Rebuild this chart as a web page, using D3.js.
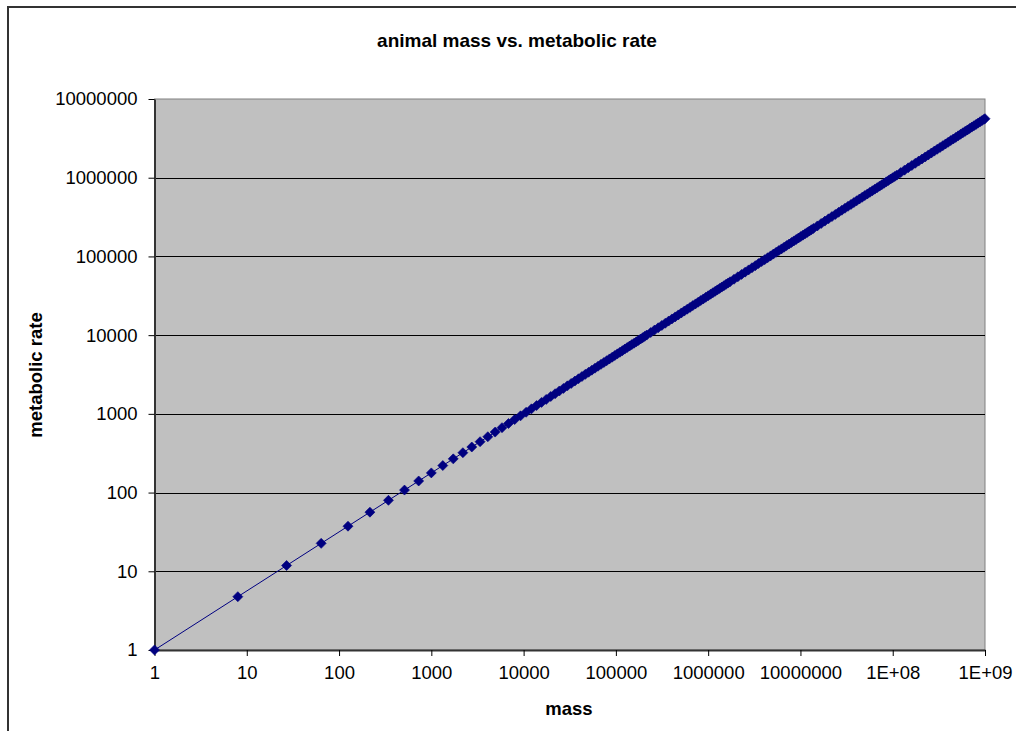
<!DOCTYPE html>
<html>
<head>
<meta charset="utf-8">
<script src="https://cdn.jsdelivr.net/npm/d3@7"></script>
<style>
  html, body { margin: 0; padding: 0; background: #ffffff; }
  svg { display: block; }
  text { font-family: "Liberation Sans", Arial, Helvetica, sans-serif; fill: #000; }
</style>
</head>
<body>
<svg id="chart" width="1016" height="731"></svg>
<script>
// ---- data (mass = n^3 sampled points, metabolic rate = observed values) ----
const massValues = [
  1,8,27,64,125,216,343,512,729,1000,1331,1728,2197,2744,3375,4096,4913,5832,6859,8000,
  9261,10648,12167,13824,15625,17576,19683,21952,24389,27000,29791,32768,35937,39304,42875,46656,50653,54872,59319,64000,
  68921,74088,79507,85184,91125,97336,103823,110592,117649,125000,132651,140608,148877,157464,166375,175616,185193,195112,205379,216000,
  238328,262144,287496,314432,343000,373248,405224,438976,474552,512000,551368,592704,636056,681472,729000,
  778688,830584,884736,941192,1000000,1061208,1124864,1191016,1259712,1331000,1404928,1481544,1560896,1643032,1728000,
  1906624,2097152,2299968,2515456,2744000,2985984,3241792,3511808,3796416,4096000,4410944,4741632,5088448,5451776,5832000,
  6229504,6644672,7077888,7529536,8000000,8489664,8998912,9528128,10077696,10648000,11239424,11852352,12487168,13144256,13824000,
  15252992,16777216,18399744,20123648,21952000,23887872,25934336,28094464,30371328,32768000,35287552,37933056,40707584,43614208,46656000,
  49836032,53157376,56623104,60236288,64000000,67917312,71991296,76225024,80621568,85184000,89915392,94818816,99897344,105154048,110592000,
  122023936,134217728,147197952,160989184,175616000,191102976,207474688,224755712,242970624,262144000,282300416,303464448,325660672,348913664,373248000,398688256,
  425259008,452984832,481890304,512000000,543338496,575930368,609800192,644972544,681472000,719323136,758550528,799178752,841232384,884736000,929714176,976191488,1000000000
];
const rateValues = [
  1,4.757,11.84,22.63,37.38,56.34,79.70,107.6,140.3,177.8,220.4,268.0,320.9,379.1,442.8,512,586.8,667.4,753.7,845.9,
  944.0,1048,1158,1275,1398,1526,1662,1803,1952,2106,2268,2435,2610,2791,2980,3175,3376,3585,3801,4024,
  4254,4491,4735,4986,5245,5511,5784,6065,6352,6648,6951,7261,7579,7905,8238,8579,8927,9283,9648,10019,
  10787,11585,12416,13278,14173,15101,16061,17054,18081,19141,20234,21361,22523,23718,24949,
  26213,27513,28848,30218,31623,33064,34540,36053,37601,39186,40808,42466,44160,45892,47660,
  51310,55109,59060,63163,67420,71832,76399,81124,86006,91048,96250,101612,107137,112825,118676,
  124692,130875,137223,143740,150424,157278,164302,171497,178863,186402,194114,202001,210062,218299,226712,
  244071,262144,280937,300456,320705,341690,363418,385892,409117,433099,457843,483352,509632,536686,564522,
  593141,622548,652748,683745,715542,748144,781556,815780,850822,886684,923369,960886,999229,1038412,1078433,
  1161004,1246974,1336368,1429214,1525539,1625364,1728716,1835622,1946101,2060177,2177879,2299222,2424231,2552928,2685333,2821467,
  2961352,3105011,3252452,3403712,3558794,3717727,3880530,4047210,4217801,4392312,4570758,4753167,4939548,5129921,5324300,5522695,5623413
];
const xTickValues = [1,10,100,1000,10000,100000,1000000,10000000,100000000,1000000000];
const xTickLabels = ["1","10","100","1000","10000","100000","1000000","10000000","1E+08","1E+09"];
const yTickValues = [1,10,100,1000,10000,100000,1000000,10000000];
const yTickLabels = ["1","10","100","1000","10000","100000","1000000","10000000"];
const chartTitle = "animal mass vs. metabolic rate";
const xTitle = "mass";
const yTitle = "metabolic rate";

const points = massValues.map((m, i) => ({ mass: m, rate: rateValues[i] }));

// ---- layout ----
const svg = d3.select("#chart");
const plot = { left: 154.5, right: 985, top: 99, bottom: 650 };

const x = d3.scaleLog().domain([1, 1e9]).range([plot.left, plot.right]);
const y = d3.scaleLog().domain([1, 1e7]).range([plot.bottom, plot.top]);

svg.append("rect").attr("x", 0).attr("y", 0).attr("width", 1016).attr("height", 731).attr("fill", "#fff");

// outer chart-area border (extends beyond the picture on right and bottom)
svg.append("rect")
  .attr("x", 8).attr("y", 7).attr("width", 1040).attr("height", 760)
  .attr("fill", "none").attr("stroke", "#333").attr("stroke-width", 2);

// plot area
svg.append("rect")
  .attr("x", plot.left).attr("y", plot.top)
  .attr("width", plot.right - plot.left).attr("height", plot.bottom - plot.top)
  .attr("fill", "#c0c0c0").attr("stroke", "#808080").attr("stroke-width", 1);

// horizontal gridlines
svg.append("g").selectAll("line")
  .data(yTickValues.filter(v => v > 1 && v < 1e7))
  .join("line")
  .attr("x1", plot.left).attr("x2", plot.right)
  .attr("y1", d => Math.round(y(d)) + 0.5).attr("y2", d => Math.round(y(d)) + 0.5)
  .attr("stroke", "#000").attr("stroke-width", 1);

// axes
const yAxis = d3.axisLeft(y).tickValues(yTickValues)
  .tickFormat((d, i) => yTickLabels[i]).tickSizeInner(6).tickSizeOuter(0).tickPadding(11);
const gy = svg.append("g").attr("transform", `translate(${plot.left},0)`).call(yAxis);
gy.select(".domain").attr("stroke", "#333").attr("stroke-width", 2);
gy.selectAll(".tick line").attr("stroke", "#000");
gy.selectAll(".tick text").attr("font-size", 18.5).attr("fill", "#000")
  .style("font-family", '"Liberation Sans", Arial, sans-serif');

const xAxis = d3.axisBottom(x).tickValues(xTickValues)
  .tickFormat((d, i) => xTickLabels[i]).tickSizeInner(6).tickSizeOuter(0).tickPadding(10);
const gx = svg.append("g").attr("transform", `translate(0,${plot.bottom})`).call(xAxis);
gx.select(".domain").attr("stroke", "#333").attr("stroke-width", 2);
gx.selectAll(".tick line").attr("stroke", "#000");
gx.selectAll(".tick text").attr("font-size", 18.5).attr("fill", "#000")
  .style("font-family", '"Liberation Sans", Arial, sans-serif');

// series line
const line = d3.line().x(d => x(d.mass)).y(d => y(d.rate));
svg.append("path").datum(points)
  .attr("d", line).attr("fill", "none").attr("stroke", "#000080").attr("stroke-width", 1);

// diamond markers
const diamond = d3.symbol().type(d3.symbolSquare).size(50);
svg.append("g").selectAll("path")
  .data(points)
  .join("path")
  .attr("transform", d => `translate(${x(d.mass)},${y(d.rate)}) rotate(45)`)
  .attr("d", diamond)
  .attr("fill", "#000080").attr("stroke", "#000080").attr("stroke-width", 0.6);

// titles
svg.append("text").attr("x", 517).attr("y", 47).attr("text-anchor", "middle")
  .attr("font-size", 19).attr("font-weight", "bold").text(chartTitle);
svg.append("text").attr("x", 569).attr("y", 715).attr("text-anchor", "middle")
  .attr("font-size", 18.5).attr("font-weight", "bold").text(xTitle);
svg.append("text").attr("transform", "translate(42,375) rotate(-90)").attr("text-anchor", "middle")
  .attr("font-size", 18.5).attr("font-weight", "bold").text(yTitle);
</script>
</body>
</html>
